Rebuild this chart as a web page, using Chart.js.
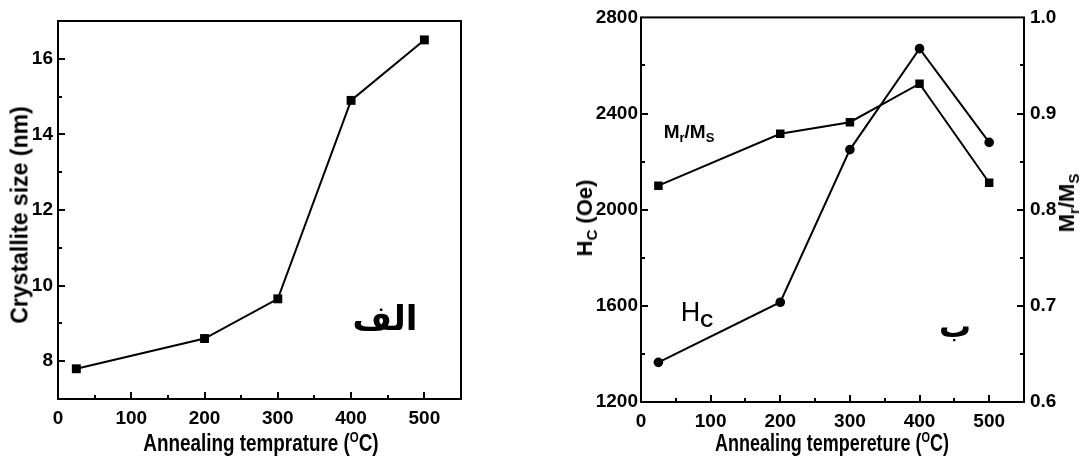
<!DOCTYPE html>
<html>
<head>
<meta charset="utf-8">
<script src="https://cdn.jsdelivr.net/npm/chart.js@4.4.1/dist/chart.umd.min.js"></script>
<style>
  body { margin: 0; background: #fff; }
  #wrap { position: relative; width: 1082px; height: 457px; overflow: hidden;
          font-family: "Liberation Sans Narrow", "Liberation Sans", Arial, sans-serif;
          font-weight: bold; color: #000; }
  canvas { position: absolute; top: 0; }
  .lbl { position: absolute; white-space: nowrap; line-height: 1; transform: translate(-50%, -50%); }
  .rot { transform: translate(-50%, -50%) rotate(-90deg); }
  .ar { font-family: "DejaVu Sans", sans-serif; }
  sup, sub { line-height: 0; }
</style>
</head>
<body>
<div id="wrap">
  <canvas id="sizeChart" width="480" height="457" style="left:0"></canvas>
  <canvas id="magChart" width="522" height="457" style="left:560px"></canvas>

  <div class="lbl rot" style="left:20px;top:215px;font-size:23px">Crystallite size (nm)</div>
  <div class="lbl" style="left:261px;top:443px;font-size:23px;transform:translate(-50%,-50%) scaleX(0.82)">Annealing temprature (<sup style="font-size:14px">O</sup>C)</div>
  <div class="lbl ar" style="left:385px;top:318px;font-size:34px">الف</div>

  <div class="lbl rot" style="left:585px;top:218px;font-size:22px">H<sub style="font-size:15px">C</sub> (Oe)</div>
  <div class="lbl rot" style="left:1067px;top:203px;font-size:22px">M<sub style="font-size:15px">r</sub>/M<sub style="font-size:15px">S</sub></div>
  <div class="lbl" style="left:832px;top:443px;font-size:23px;transform:translate(-50%,-50%) scaleX(0.78)">Annealing tempereture (<sup style="font-size:14px">O</sup>C)</div>
  <div class="lbl" style="left:689px;top:131px;font-size:19px">M<sub style="font-size:13px">r</sub>/M<sub style="font-size:13px">S</sub></div>
  <div class="lbl" style="left:697px;top:312px;font-size:27px;font-weight:normal">H<sub style="font-size:18px;font-weight:bold">C</sub></div>
  <div class="lbl ar" style="left:955px;top:326px;font-size:32px">ب</div>
</div>

<script>
// data
const temps = [25, 200, 300, 400, 500];
const crystalliteSize = [7.8, 8.6, 9.65, 14.9, 16.5];
const coercivity = [1365, 1615, 2250, 2670, 2280];
const squareness = [0.825, 0.879, 0.891, 0.931, 0.828];

// labelled ticks
const tempTicks = [0, 100, 200, 300, 400, 500];
const sizeTicks = [8, 10, 12, 14, 16];
const hcTicks = [1200, 1600, 2000, 2400, 2800];
const ratioTicks = [0.6, 0.7, 0.8, 0.9, 1.0];

Chart.defaults.font.family = '"Liberation Sans Narrow", "Liberation Sans", Arial, sans-serif';
Chart.defaults.font.size = 19;
Chart.defaults.font.weight = 'bold';
Chart.defaults.color = '#000';

function labelIf(list, fmt) {
  return function (v) {
    const hit = list.some(t => Math.abs(t - v) < 1e-6);
    return hit ? fmt(v) : '';
  };
}

function points(ys) {
  return temps.map((t, i) => ({ x: t, y: ys[i] }));
}

// box around the plot + inward tick marks
const frameTicks = {
  id: 'frameTicks',
  afterDatasetsDraw(chart) {
    const ctx = chart.ctx;
    const a = chart.chartArea;
    ctx.save();
    ctx.strokeStyle = '#000';
    ctx.lineWidth = 2;
    ctx.strokeRect(a.left, a.top, a.right - a.left, a.bottom - a.top);
    Object.values(chart.scales).forEach(s => {
      s.ticks.forEach(t => {
        if (t.value === s.min || t.value === s.max) return;
        const p = Math.round(s.getPixelForValue(t.value));
        const len = t.label !== '' ? 7 : 4;
        ctx.beginPath();
        if (s.position === 'bottom') {
          ctx.moveTo(p, a.bottom); ctx.lineTo(p, a.bottom - len);
        } else if (s.position === 'left') {
          ctx.moveTo(a.left, p); ctx.lineTo(a.left + len, p);
        } else {
          ctx.moveTo(a.right, p); ctx.lineTo(a.right - len, p);
        }
        ctx.stroke();
      });
    });
    ctx.restore();
  }
};

const noGrid = { display: false, drawTicks: false };
const noBorder = { display: false };

function tempAxis(h) {
  return {
    type: 'linear', min: 0, max: 550,
    ticks: { stepSize: 50, autoSkip: false, maxRotation: 0, padding: 8,
             callback: labelIf(tempTicks, v => v) },
    grid: noGrid, border: noBorder,
    afterFit: s => { s.height = h; }
  };
}

new Chart(document.getElementById('sizeChart'), {
  type: 'line',
  data: {
    datasets: [{
      data: points(crystalliteSize),
      borderColor: '#000', borderWidth: 2,
      pointStyle: 'rect', pointRadius: 6.3,
      pointBackgroundColor: '#000', pointBorderWidth: 0
    }]
  },
  options: {
    responsive: false, animation: false,
    layout: { padding: { top: 21, right: 19 } },
    plugins: { legend: { display: false }, tooltip: { enabled: false } },
    scales: {
      x: tempAxis(58),
      y: {
        min: 7, max: 17,
        ticks: { stepSize: 1, autoSkip: false, padding: 5,
                 callback: labelIf(sizeTicks, v => v) },
        grid: noGrid, border: noBorder,
        afterFit: s => { s.width = 58; }
      }
    }
  },
  plugins: [frameTicks]
});

new Chart(document.getElementById('magChart'), {
  type: 'line',
  data: {
    datasets: [{
      label: 'Hc',
      data: points(coercivity),
      yAxisID: 'y',
      borderColor: '#000', borderWidth: 2,
      pointStyle: 'circle', pointRadius: 4.8,
      pointBackgroundColor: '#000', pointBorderWidth: 0
    }, {
      label: 'Mr/Ms',
      data: points(squareness),
      yAxisID: 'y1',
      borderColor: '#000', borderWidth: 2,
      pointStyle: 'rect', pointRadius: 6,
      pointBackgroundColor: '#000', pointBorderWidth: 0
    }]
  },
  options: {
    responsive: false, animation: false,
    layout: { padding: { top: 17 } },
    plugins: { legend: { display: false }, tooltip: { enabled: false } },
    scales: {
      x: tempAxis(55),
      y: {
        position: 'left', min: 1200, max: 2800,
        ticks: { stepSize: 200, autoSkip: false, padding: 3,
                 callback: labelIf(hcTicks, v => v) },
        grid: noGrid, border: noBorder,
        afterFit: s => { s.width = 81; }
      },
      y1: {
        position: 'right', min: 0.6, max: 1.0,
        ticks: { stepSize: 0.05, autoSkip: false, padding: 6,
                 callback: labelIf(ratioTicks, v => v.toFixed(1)) },
        grid: noGrid, border: noBorder,
        afterFit: s => { s.width = 58; }
      }
    }
  },
  plugins: [frameTicks]
});
</script>
</body>
</html>
